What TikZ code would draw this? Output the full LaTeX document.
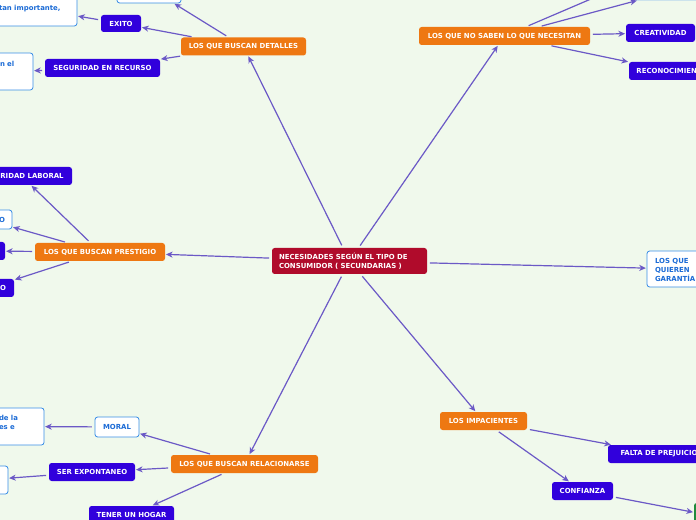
\documentclass[tikz,border=0pt]{standalone}
\usepackage{fontspec}
\setmainfont{DejaVu Sans}
\usepackage{xcolor}
\usetikzlibrary{arrows.meta}
\definecolor{fondo}{HTML}{F0F9EC}
\definecolor{rojo}{HTML}{B00B2B}
\definecolor{naranja}{HTML}{EE7812}
\definecolor{azul}{HTML}{3100DC}
\definecolor{celeste}{HTML}{3A8EE6}
\definecolor{celestetxt}{HTML}{1B6BD6}
\definecolor{claro}{HTML}{8CBCEE}
\definecolor{verde}{HTML}{208A3C}
\definecolor{flecha}{HTML}{6B59C6}

\begin{document}
\begin{tikzpicture}[x=0.75pt, y=-0.75pt,
    caja/.style={font=\fontsize{5.2}{6.6}\selectfont\bfseries, inner sep=0pt, rounded corners=2pt, minimum height=13.5pt},
    central/.style={caja, fill=rojo, text=white},
    tema/.style={caja, fill=naranja, text=white},
    sub/.style={caja, fill=azul, text=white},
    nota/.style={caja, fill=white, draw=celeste, line width=0.6pt, text=celestetxt},
    ancho/.style={minimum width=#1*0.75pt},
    alto/.style={minimum height=#1*0.75pt},
    conector/.style={draw=flecha, line width=0.9pt, -{Stealth[length=5pt, width=4.5pt, inset=1.5pt]}, shorten <=2pt, shorten >=0.5pt}]

    \useasboundingbox (0,0) rectangle (696,520);
    \fill[fondo] (0,0) rectangle (696,520);
    \clip (0,0) rectangle (696,520);

    % centro
    \node[central, ancho=155, alto=26, text width=105.75pt, align=left] (centro) at (349.5,261) {NECESIDADES SEGÚN EL TIPO DE\\CONSUMIDOR ( SECUNDARIAS )};

    % detalles
    \node[tema, ancho=125] (detalles) at (243.5,46.5) {LOS QUE BUSCAN DETALLES};
    \node[sub, ancho=40, alto=17] (exito) at (121,23.5) {EXITO};
    \node[nota, ancho=64, alto=30] (detallesarriba) at (149,-12) {};
    \node[nota, ancho=82, alto=34, text width=55.5pt, align=left] (importante) at (36,9) {tan importante,};
    \node[sub, ancho=115] (recurso) at (102.5,68) {SEGURIDAD EN RECURSO};
    \node[nota, ancho=37, text width=21.75pt, align=left, text height=10.1pt, text depth=17.6pt] (recursonota) at (14.5,71.5) {n el};

    % no saben
    \node[tema, ancho=171] (nosaben) at (504.5,36) {LOS QUE NO SABEN LO QUE NECESITAN};
    \node[sub, ancho=60] (nosabenarriba) at (640,-22) {};
    \node[nota, draw=claro, ancho=130, alto=30] (nosabenclaro) at (695,-15) {};
    \node[sub, ancho=69] (creatividad) at (660.5,33) {CREATIVIDAD};
    \node[sub, ancho=86] (reconocimiento) at (672,71) {RECONOCIMIENTO};

    % prestigio
    \node[tema, ancho=130] (prestigio) at (100,252) {LOS QUE BUSCAN PRESTIGIO};
    \node[sub, ancho=101] (laboral) at (21.5,176) {SEGURIDAD LABORAL};
    \node[nota, ancho=52, alto=19, text width=28.5pt, align=right] (prestigioa) at (-14,219.5) {O};
    \node[sub, ancho=45] (prestigiob) at (-17.5,251) {};
    \node[sub, ancho=50, text width=25.5pt, align=right] (prestigioc) at (-11,288) {O};

    % garantia
    \node[nota, ancho=73, text width=42.75pt, align=left, text height=9.4pt, text depth=17.6pt] (garantia) at (683.5,269) {LOS QUE\\QUIEREN\\GARANTÍA};

    % impacientes
    \node[tema, ancho=87] (impacientes) at (483.5,421) {LOS IMPACIENTES};
    \node[sub, ancho=107] (prejuicios) at (661.5,454) {FALTA DE PREJUICIOS};
    \node[sub, ancho=61] (confianza) at (582.5,491) {CONFIANZA};
    \node[caja, fill=verde, ancho=96, alto=37] (confianzaverde) at (742,521.5) {};

    % relacionarse
    \node[tema, ancho=147] (relacionarse) at (244.5,464) {LOS QUE BUSCAN RELACIONARSE};
    \node[nota, ancho=44, alto=20] (moral) at (117,427) {MORAL};
    \node[nota, ancho=50, text width=30pt, align=left, text height=9.4pt, text depth=18.4pt] (moralnota) at (19,426.5) {de la\\es e};
    \node[sub, ancho=86] (expontaneo) at (92,472) {SER EXPONTANEO};
    \node[nota, ancho=48, alto=28] (expontaneonota) at (-16,480) {};
    \node[sub, ancho=85] (hogar) at (131.5,515) {TENER UN HOGAR};

    \foreach \a/\b in {centro/detalles, centro/nosaben, centro/prestigio, centro/garantia,
        centro/impacientes, centro/relacionarse, detalles/exito, detalles/detallesarriba,
        detalles/recurso, exito/importante, recurso/recursonota, nosaben/nosabenarriba,
        nosaben/nosabenclaro, nosaben/creatividad, nosaben/reconocimiento, prestigio/laboral,
        prestigio/prestigioa, prestigio/prestigiob, prestigio/prestigioc, impacientes/prejuicios,
        impacientes/confianza, confianza/confianzaverde, relacionarse/moral,
        relacionarse/expontaneo, relacionarse/hogar, moral/moralnota, expontaneo/expontaneonota}
    {
        \draw[conector] (\a) -- (\b);
    }
\end{tikzpicture}
\end{document}
